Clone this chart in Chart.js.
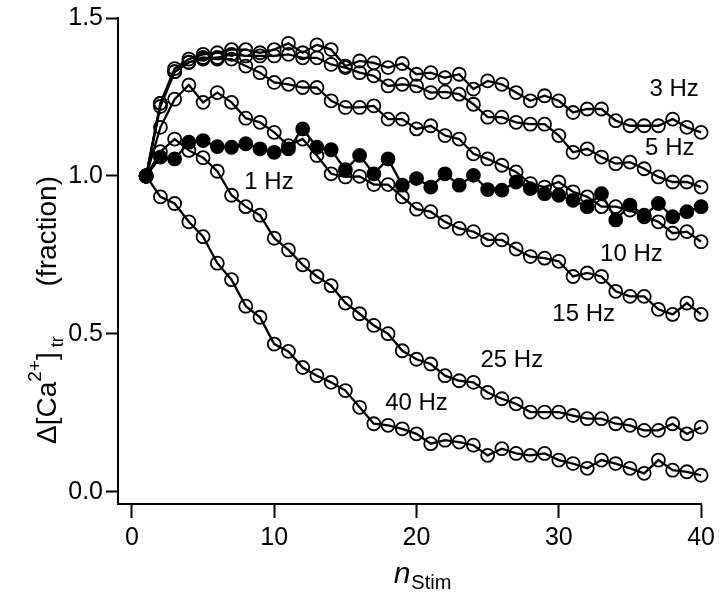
<!DOCTYPE html>
<html>
<head>
<meta charset="utf-8">
<script src="https://cdn.jsdelivr.net/npm/chart.js@4.4.0/dist/chart.umd.min.js"></script>
<style>
  html, body { margin: 0; padding: 0; background: #fff; }
  #wrap { width: 720px; height: 594px; }
</style>
</head>
<body>
<div id="wrap"><canvas id="chart" width="720" height="594"></canvas></div>
<script>
// stimulus number (x values)
const nStim = [1, 2, 3, 4, 5, 6, 7, 8, 9, 10, 11, 12, 13, 14, 15, 16, 17, 18, 19, 20,
               21, 22, 23, 24, 25, 26, 27, 28, 29, 30, 31, 32, 33, 34, 35, 36, 37, 38, 39, 40];

// normalised transient amplitude, one array per stimulation frequency
const hz1 = [1.00, 1.06, 1.054, 1.107, 1.112, 1.093, 1.091, 1.102, 1.086, 1.075,
             1.086, 1.149, 1.091, 1.083, 1.020, 1.065, 1.007, 1.054, 0.971, 0.992,
             0.965, 1.007, 0.971, 1.002, 0.957, 0.955, 0.981, 0.960, 0.944, 0.939,
             0.923, 0.903, 0.944, 0.861, 0.908, 0.876, 0.913, 0.871, 0.887, 0.903];
const hz3 = [1.00, 1.23, 1.34, 1.37, 1.385, 1.39, 1.40, 1.40, 1.39, 1.40,
             1.42, 1.39, 1.415, 1.40, 1.348, 1.364, 1.358, 1.343, 1.356, 1.322,
             1.327, 1.311, 1.322, 1.275, 1.301, 1.290, 1.264, 1.238, 1.254, 1.238,
             1.201, 1.212, 1.212, 1.175, 1.159, 1.159, 1.159, 1.180, 1.154, 1.138];
const hz5 = [1.00, 1.23, 1.33, 1.36, 1.37, 1.375, 1.385, 1.38, 1.38, 1.38,
             1.385, 1.374, 1.374, 1.353, 1.343, 1.327, 1.317, 1.285, 1.290, 1.285,
             1.264, 1.266, 1.259, 1.227, 1.186, 1.186, 1.170, 1.164, 1.164, 1.128,
             1.075, 1.086, 1.060, 1.039, 1.044, 1.023, 0.997, 0.981, 0.981, 0.965];
const hz10 = [1.00, 1.22, 1.33, 1.36, 1.375, 1.37, 1.37, 1.348, 1.327, 1.296,
              1.290, 1.280, 1.280, 1.238, 1.217, 1.217, 1.222, 1.180, 1.180, 1.149,
              1.159, 1.128, 1.117, 1.070, 1.054, 1.034, 1.013, 0.976, 0.965, 0.981,
              0.950, 0.934, 0.903, 0.903, 0.892, 0.871, 0.855, 0.819, 0.824, 0.792];
const hz15 = [1.00, 1.154, 1.243, 1.288, 1.233, 1.264, 1.233, 1.183, 1.170, 1.138,
              1.096, 1.117, 1.065, 1.007, 0.997, 0.999, 0.973, 0.973, 0.934, 0.895,
              0.887, 0.855, 0.834, 0.824, 0.798, 0.798, 0.769, 0.745, 0.740, 0.730,
              0.682, 0.693, 0.682, 0.635, 0.619, 0.619, 0.578, 0.562, 0.598, 0.562];
const hz25 = [1.00, 1.077, 1.117, 1.081, 1.058, 1.015, 0.939, 0.903, 0.876, 0.803,
              0.766, 0.719, 0.682, 0.653, 0.598, 0.564, 0.527, 0.501, 0.447, 0.420,
              0.405, 0.368, 0.352, 0.347, 0.315, 0.295, 0.279, 0.253, 0.253, 0.253,
              0.242, 0.232, 0.232, 0.216, 0.211, 0.195, 0.195, 0.216, 0.184, 0.205];
const hz40 = [1.00, 0.934, 0.913, 0.855, 0.808, 0.724, 0.672, 0.588, 0.553, 0.468,
              0.445, 0.394, 0.368, 0.347, 0.321, 0.268, 0.216, 0.211, 0.200, 0.184,
              0.153, 0.164, 0.158, 0.148, 0.116, 0.137, 0.122, 0.116, 0.122, 0.101,
              0.090, 0.075, 0.101, 0.090, 0.075, 0.059, 0.101, 0.069, 0.064, 0.053];

const xTicks = [0, 10, 20, 30, 40];
const yTicks = [0.0, 0.5, 1.0, 1.5];

// in-plot series labels (data coordinates of the text centre)
const seriesLabels = ['1 Hz', '3 Hz', '5 Hz', '10 Hz', '15 Hz', '25 Hz', '40 Hz'];
const labelX = [9.63, 38.1, 37.8, 35.1, 31.75, 26.7, 20.0];
const labelY = [0.981, 1.275, 1.086, 0.752, 0.563, 0.418, 0.28];

const FONT = '"Liberation Sans", Arial, Helvetica, sans-serif';

const toPoints = vals => vals.map((v, i) => ({ x: nStim[i], y: v }));

const series = (vals, filled) => ({
    data: toPoints(vals),
    borderColor: '#000',
    borderWidth: 2.3,
    pointRadius: 6.5,
    pointBorderWidth: 1.8,
    pointBorderColor: '#000',
    pointBackgroundColor: filled ? '#000' : 'rgba(0,0,0,0)',
    tension: 0,
    clip: false
});

// text that Chart.js cannot do itself: labels and sub/superscript axis titles
const textPlugin = {
    id: 'texts',
    afterDraw(chart) {
        const { ctx, scales: { x, y } } = chart;
        ctx.save();
        ctx.fillStyle = '#000';
        ctx.textBaseline = 'middle';
        ctx.textAlign = 'center';
        ctx.font = '24px ' + FONT;
        seriesLabels.forEach((t, i) => {
            ctx.fillText(t, x.getPixelForValue(labelX[i]), y.getPixelForValue(labelY[i]));
        });

        // x title: n_Stim
        ctx.textAlign = 'left';
        ctx.textBaseline = 'alphabetic';
        ctx.font = 'italic 30px ' + FONT;
        const nW = ctx.measureText('n').width;
        ctx.font = '20px ' + FONT;
        const sW = ctx.measureText('Stim').width;
        const sx = 422 - (nW + sW) / 2;
        ctx.font = 'italic 30px ' + FONT;
        ctx.fillText('n', sx, 583);
        ctx.font = '20px ' + FONT;
        ctx.fillText('Stim', sx + nW + 1, 589);

        // y title: Δ[Ca2+]tr   (fraction), rotated
        ctx.translate(56, 444);
        ctx.rotate(-Math.PI / 2);
        const runs = [
            { t: 'Δ[Ca', size: 28, dy: 0 },
            { t: '2+', size: 19, dy: -15 },
            { t: ']', size: 28, dy: 0 },
            { t: ' tr', size: 18, dy: 7 }
        ];
        let px = 0;
        runs.forEach(r => {
            ctx.font = r.size + 'px ' + FONT;
            ctx.fillText(r.t, px, r.dy);
            px += ctx.measureText(r.t).width;
        });
        ctx.font = '28px ' + FONT;
        ctx.textAlign = 'right';
        ctx.fillText('(fraction)', 444 - 176, 0);
        ctx.restore();
    }
};

new Chart(document.getElementById('chart'), {
    type: 'line',
    data: {
        datasets: [
            series(hz1, true),
            series(hz3, false),
            series(hz5, false),
            series(hz10, false),
            series(hz15, false),
            series(hz25, false),
            series(hz40, false)
        ]
    },
    options: {
        responsive: false,
        animation: false,
        devicePixelRatio: 1,
        layout: { padding: { top: 15, right: 15, left: 0, bottom: 0 } },
        plugins: { legend: { display: false }, tooltip: { enabled: false } },
        scales: {
            x: {
                type: 'linear',
                min: -0.98,
                max: 40,
                afterBuildTicks: s => { s.ticks = xTicks.map(v => ({ value: v })); },
                afterFit: s => { s.height = 90; },
                grid: { display: true, drawOnChartArea: false, drawTicks: true, tickLength: 14, tickWidth: 2, color: '#000' },
                border: { display: true, color: '#000', width: 2 },
                ticks: { color: '#000', font: { family: FONT, size: 25 }, padding: 5, maxRotation: 0 }
            },
            y: {
                type: 'linear',
                min: -0.038,
                max: 1.5,
                afterBuildTicks: s => { s.ticks = yTicks.map(v => ({ value: v })); },
                afterFit: s => { s.width = 118; },
                grid: { display: true, drawOnChartArea: false, drawTicks: true, tickLength: 12, tickWidth: 2, color: '#000' },
                border: { display: true, color: '#000', width: 2 },
                ticks: { color: '#000', font: { family: FONT, size: 25 }, padding: 3, callback: v => v.toFixed(1) }
            }
        }
    },
    plugins: [textPlugin]
});
</script>
</body>
</html>
